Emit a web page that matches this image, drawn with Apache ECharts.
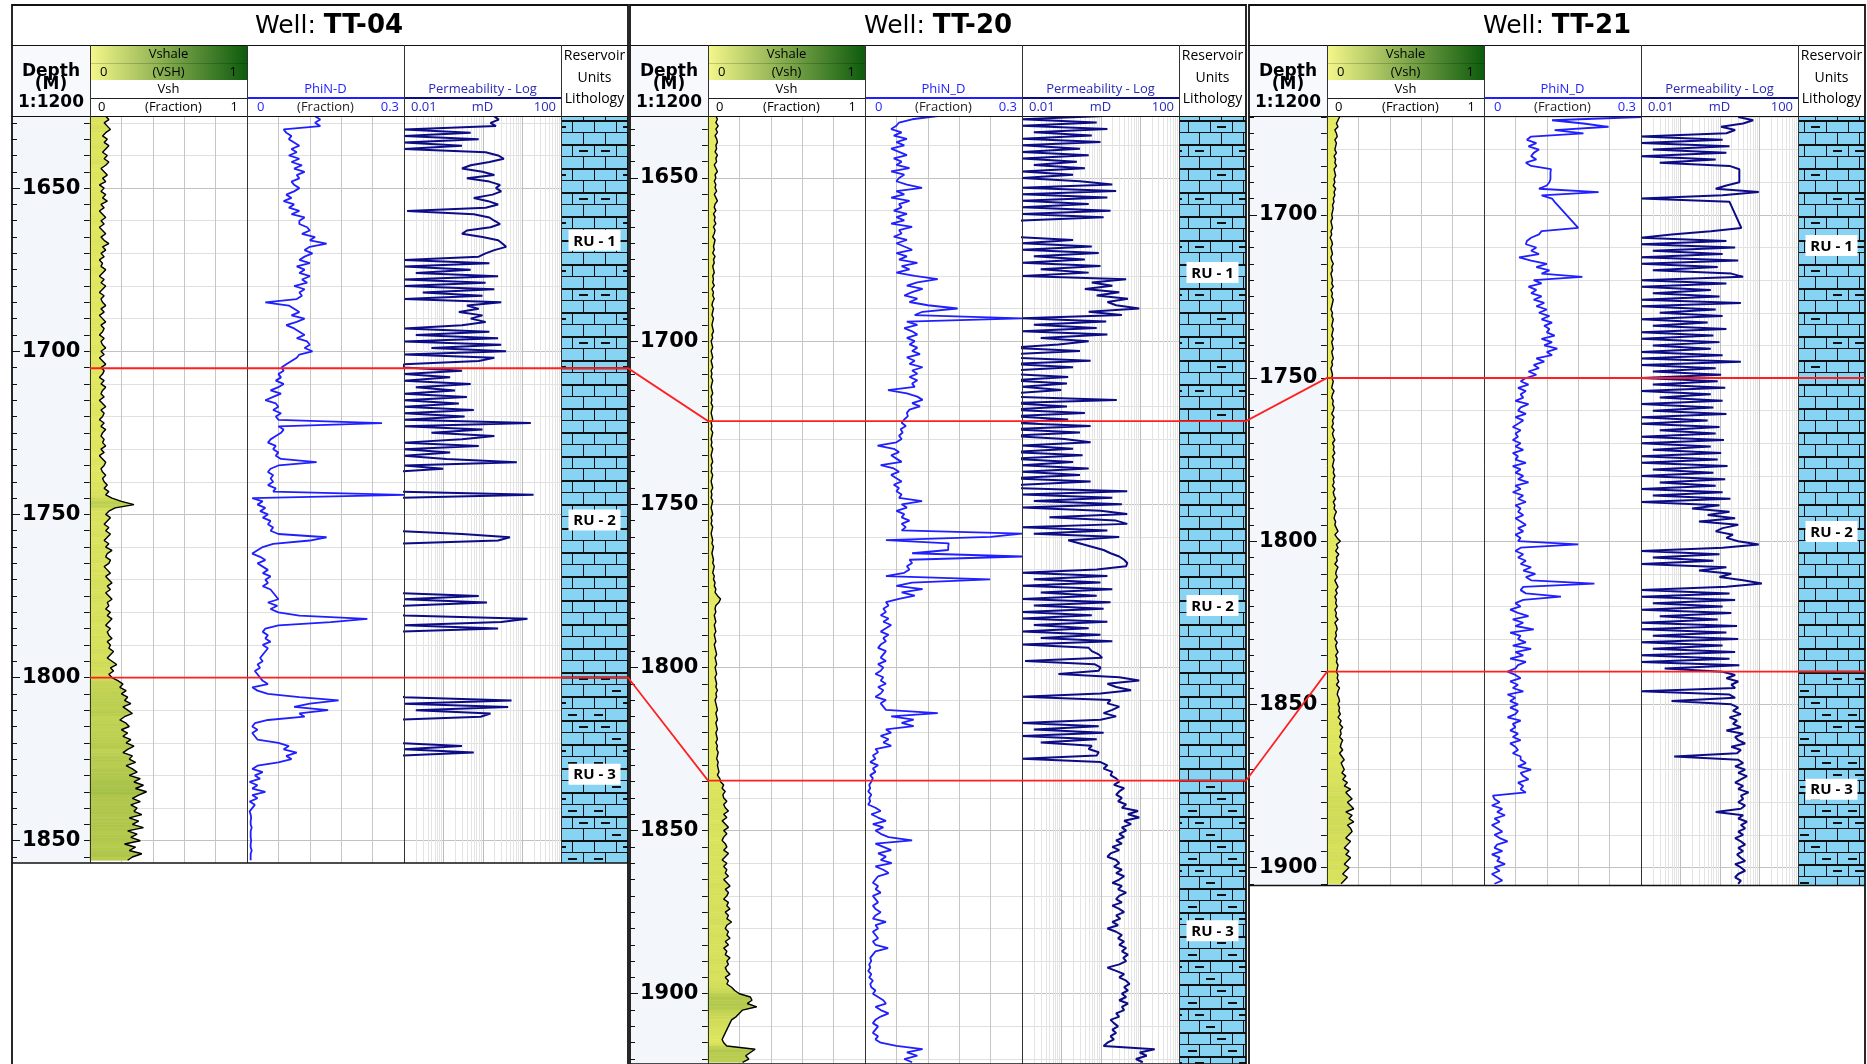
<!DOCTYPE html>
<html>
<head>
<meta charset="utf-8">
<title>Well correlation TT-04 / TT-20 / TT-21</title>
<script src="https://cdn.jsdelivr.net/npm/echarts@6.0.0/dist/echarts.min.js"></script>
<style>
html,body{margin:0;padding:0;background:#fff;}
#chart{width:1867px;height:1064px;}
</style>
</head>
<body>
<div id="chart"></div>
<script>
// ===================== DATA =====================
const wellNames = ['TT-04', 'TT-20', 'TT-21'];
const vshHeaderNames = ['(VSH)', '(Vsh)', '(Vsh)'];
const phiCurveNames = ['PhiN-D', 'PhiN_D', 'PhiN_D'];
const vshCurveName = 'Vsh';
const vshScaleTitle = 'Vshale';
const permCurveName = 'Permeability - Log';
const vshScaleLabels = ['0', '(Fraction)', '1'];
const phiScaleLabels = ['0', '(Fraction)', '0.3'];
const permScaleLabels = ['0.01', 'mD', '100'];
const vshRange = [0, 1];
const phiRange = [0, 0.3];
const permRange = [0.01, 100];
const vshGridStep = 0.2;
const phiGridStep = 0.06;
const permDecadeLines = [0.1, 1, 10];
const permMinorLines = [0.02,0.03,0.04,0.05,0.06,0.07,0.08,0.09,
  0.2,0.3,0.4,0.5,0.6,0.7,0.8,0.9, 2,3,4,5,6,7,8,9, 20,30,40,50,60,70,80,90];
const depthLabelStep = 50;
const depthTickStep = 5;
const depthGridStep = 10;

// visible depth window of every well (m) and axis extents
const viewTop = [1627.9, 1631, 1669.7];
const viewBottom = [1856.8, 1921.5, 1905.5];
const axisMin = [1600, 1600, 1650];
const firstDepth = [1628, 1631, 1670];   // depth of first sample; samples every 1 m
const sampleStep = 1;

// reservoir units
const unitNames = ['RU - 1', 'RU - 2', 'RU - 3'];
const topRU2 = [1705.2, 1724.5, 1750];
const topRU3 = [1800, 1834.7, 1840];
const unitLabelDepth = [[1666, 1751.7, 1829.6], [1679, 1781, 1880.7], [1709.4, 1797, 1876]];

// ---------- TT-04 (1628 .. 1856 m) ----------
const tt04Vsh = [
 .10,.12,.09,.11,.13,.10,.08,.11,.09,.12,
 .10,.08,.11,.09,.12,.10,.07,.09,.11,.08,
 .10,.06,.09,.07,.10,.08,.11,.07,.09,.06,
 .08,.10,.07,.09,.06,.08,.10,.07,.09,.12,
 .08,.10,.07,.09,.06,.08,.07,.10,.08,.06,
 .09,.07,.10,.08,.06,.09,.07,.08,.10,.07,
 .09,.06,.08,.10,.07,.09,.08,.06,.09,.07,
 .08,.10,.07,.09,.06,.08,.10,.07,.09,.08,
 .06,.09,.07,.10,.08,.07,.09,.06,.08,.10,
 .07,.09,.08,.06,.09,.07,.10,.08,.07,.09,
 .08,.10,.07,.09,.06,.08,.10,.09,.07,.08,
 .10,.08,.09,.11,.09,.12,.10,.14,.20,.28,
 .16,.12,.10,.13,.11,.09,.12,.10,.13,.11,
 .09,.12,.10,.14,.11,.10,.13,.12,.09,.11,
 .13,.10,.12,.14,.11,.13,.10,.12,.14,.11,
 .12,.10,.13,.11,.14,.12,.10,.13,.11,.12,
 .14,.11,.13,.12,.15,.13,.11,.14,.17,.13,
 .15,.12,.14,.18,.21,.19,.23,.20,.24,.22,
 .26,.21,.24,.27,.22,.19,.23,.25,.20,.24,
 .21,.26,.23,.28,.24,.21,.27,.25,.29,.23,
 .27,.30,.25,.32,.28,.34,.29,.36,.31,.27,
 .32,.26,.30,.28,.33,.25,.31,.27,.34,.24,
 .30,.26,.32,.22,.29,.25,.33,.27,.24
];
const tt04Phi = [
 .13,.14,.13,.14,.07,.075,.085,.08,.09,.10,
 .085,.095,.08,.10,.085,.105,.09,.11,.095,.10,
 .085,.09,.10,.09,.075,.085,.07,.09,.08,.10,
 .085,.11,.10,.10,.115,.12,.105,.13,.12,.152,
 .12,.11,.125,.11,.10,.12,.095,.11,.10,.12,
 .105,.115,.09,.11,.10,.105,.095,.035,.08,.09,
 .10,.085,.11,.095,.075,.09,.10,.11,.095,.115,
 .12,.11,.125,.10,.095,.085,.075,.066,.07,.06,
 .065,.055,.07,.06,.045,.065,.05,.035,.055,.06,
 .05,.065,.055,.06,.258,.06,.07,.065,.055,.045,
 .04,.055,.05,.06,.055,.065,.133,.06,.045,.04,
 .05,.045,.05,.04,.055,.05,.30,.01,.03,.02,
 .035,.025,.04,.03,.045,.04,.05,.045,.06,.152,
 .12,.05,.03,.02,.01,.025,.035,.02,.03,.04,
 .03,.045,.035,.04,.03,.045,.05,.055,.06,.04,
 .058,.045,.06,.10,.23,.16,.06,.035,.03,.04,
 .035,.045,.03,.04,.035,.03,.025,.03,.02,.025,
 .015,.02,.025,.03,.04,.01,.02,.04,.10,.175,
 .12,.09,.155,.10,.11,.04,.015,.01,.02,.01,
 .015,.02,.06,.08,.07,.095,.075,.085,.06,.02,
 .01,.03,.015,.025,.005,.02,.01,.035,.01,.02,
 .005,.015,.01,.005,.007,.008,.007,.007,.009,.007,
 .007,.007,.008,.007,.007,.009,.007,.007,.007
];
const tt04Perm = [
 2.0,2.6,1.6,2.2,0.01,0.5,0.01,0.8,0.01,0.3,
 0.01,1.2,2.5,3.5,1.5,0.5,0.3,1.0,2.0,0.4,
 1.5,2.8,2.2,3.0,1.8,0.6,1.4,2.5,1.2,0.012,
 0.6,1.5,2.0,2.8,1.6,0.4,0.3,1.0,2.5,3.2,
 4.0,2.0,1.2,0.8,0.01,1.5,0.01,0.5,0.02,2.5,
 0.01,1.2,0.01,2.0,0.03,1.0,0.01,3.0,0.4,0.8,
 0.25,1.0,0.5,1.2,0.3,0.01,1.5,0.02,2.5,0.01,
 3.0,0.05,4.0,0.01,2.0,0.8,0.01,0.01,0.3,0.01,
 0.15,0.01,0.5,0.02,0.2,0.01,0.4,0.01,0.25,0.01,
 0.6,0.01,0.35,0.01,17,0.01,1.0,0.05,2.0,0.3,
 0.01,0.8,0.01,0.15,0.01,0.12,7.5,0.01,0.1,0.005,
 0.005,0.005,0.005,0.005,0.005,0.005,20,0.005,0.005,0.005,
 0.005,0.005,0.005,0.005,0.005,0.005,0.005,0.005,0.3,5.0,
 2.5,0.005,0.005,0.005,0.005,0.005,0.005,0.005,0.005,0.005,
 0.005,0.005,0.005,0.005,0.005,0.005,0.005,0.8,0.01,1.3,
 0.01,0.005,0.005,0.01,14,3.0,0.01,2.5,0.005,0.005,
 0.005,0.005,0.005,0.005,0.005,0.005,0.005,0.005,0.005,0.005,
 0.005,0.005,0.005,0.005,0.005,0.005,0.005,0.005,0.01,5.5,
 0.01,4.5,0.02,1.6,0.9,0.005,0.005,0.005,0.005,0.005,
 0.005,0.005,0.005,0.3,0.01,0.6,0.005,0.005,0.005,0.005,
 0.005,0.005,0.005,0.005,0.005,0.005,0.005,0.005,0.005,0.005,
 0.005,0.005,0.005,0.005,0.005,0.005,0.005,0.005,0.005,0.005,
 0.005,0.005,0.005,0.005,0.005,0.005,0.005,0.005,0.005
];

// ---------- TT-20 (1631 .. 1921 m) ----------
const tt20Vsh = [
 .05,.06,.05,.065,.05,.06,.045,.055,.06,.05,
 .055,.045,.06,.05,.055,.04,.05,.06,.045,.05,
 .04,.05,.045,.055,.04,.05,.06,.045,.04,.05,
 .035,.045,.04,.05,.035,.045,.04,.03,.045,.04,
 .035,.04,.03,.045,.035,.04,.03,.035,.04,.03,
 .035,.03,.04,.025,.035,.03,.04,.03,.025,.035,
 .03,.025,.035,.03,.025,.03,.035,.025,.03,.02,
 .025,.03,.02,.025,.03,.02,.025,.03,.02,.025,
 .02,.03,.025,.02,.025,.03,.02,.025,.02,.03,
 .025,.02,.025,.03,.02,.025,.02,.03,.025,.02,
 .025,.02,.03,.025,.02,.025,.03,.02,.025,.02,
 .03,.025,.02,.025,.03,.02,.025,.02,.03,.025,
 .02,.025,.03,.02,.025,.02,.03,.025,.02,.025,
 .03,.025,.035,.03,.025,.03,.035,.03,.04,.035,
 .03,.04,.035,.045,.04,.05,.045,.06,.08,.07,
 .05,.045,.05,.04,.045,.05,.04,.045,.05,.04,
 .045,.05,.04,.045,.05,.055,.045,.05,.055,.045,
 .05,.055,.045,.05,.055,.05,.06,.05,.055,.045,
 .05,.055,.06,.05,.055,.06,.05,.055,.06,.05,
 .055,.06,.05,.06,.055,.065,.06,.055,.065,.06,
 .065,.07,.06,.075,.08,.1,.09,.11,.095,.1,
 .12,.1,.11,.13,.1,.12,.09,.11,.13,.1,
 .12,.1,.09,.11,.12,.1,.13,.11,.09,.12,
 .1,.12,.11,.13,.1,.12,.14,.11,.13,.12,
 .1,.13,.12,.14,.11,.13,.12,.15,.12,.11,
 .13,.12,.14,.11,.13,.1,.12,.11,.14,.12,
 .13,.11,.12,.14,.11,.13,.12,.15,.17,.2,
 .27,.28,.25,.31,.22,.2,.18,.15,.14,.13,
 .12,.11,.1,.09,.1,.12,.3,.27,.24,.26,
 .22
];
const tt20Phi = [
 .139,.09,.065,.06,.05,.07,.055,.08,.06,.075,
 .05,.065,.08,.055,.07,.06,.085,.05,.075,.065,
 .06,.08,.109,.06,.075,.05,.085,.065,.07,.055,
 .08,.06,.075,.05,.09,.065,.07,.055,.08,.06,
 .075,.09,.06,.08,.065,.1,.07,.085,.06,.095,
 .139,.1,.08,.11,.09,.075,.1,.085,.12,.177,
 .11,.095,.30,.08,.1,.075,.09,.1,.08,.095,
 .085,.1,.09,.105,.08,.095,.085,.11,.09,.1,
 .085,.1,.09,.095,.044,.08,.1,.11,.09,.105,
 .085,.08,.082,.075,.07,.078,.068,.072,.065,.07,
 .06,.024,.055,.065,.05,.06,.07,.03,.055,.065,
 .05,.06,.07,.055,.065,.06,.07,.065,.109,.07,
 .08,.06,.075,.07,.085,.07,.078,.07,.30,.24,
 .04,.16,.159,.159,.09,.30,.085,.09,.08,.085,
 .075,.04,.239,.09,.06,.11,.07,.095,.065,.04,
 .045,.035,.04,.03,.045,.035,.05,.04,.03,.045,
 .035,.04,.03,.025,.04,.035,.03,.04,.025,.035,
 .03,.02,.035,.03,.04,.025,.035,.03,.02,.04,
 .03,.035,.04,.139,.05,.093,.07,.093,.04,.05,
 .03,.045,.035,.05,.02,.025,.015,.02,.01,.025,
 .015,.02,.01,.015,.012,.008,.01,.006,.012,.008,
 .01,.006,.02,.03,.012,.025,.04,.015,.035,.02,
 .03,.045,.09,.02,.035,.05,.025,.04,.03,.051,
 .02,.035,.045,.025,.02,.015,.025,.02,.03,.015,
 .02,.025,.015,.02,.03,.02,.015,.04,.02,.025,
 .015,.02,.025,.015,.02,.044,.02,.015,.01,.012,
 .008,.01,.006,.012,.008,.015,.01,.012,.02,.015,
 .025,.035,.04,.02,.03,.045,.03,.02,.015,.025,
 .02,.015,.025,.02,.03,.06,.11,.08,.1,.075,
 .09
];
const tt20Perm = [
 1.2,0.01,0.8,0.01,1.5,0.02,0.6,0.01,1.0,0.01,
 0.3,0.01,0.5,0.01,0.25,0.02,0.4,0.01,0.2,0.01,
 0.3,2.0,0.01,2.5,0.01,1.5,0.01,0.5,0.01,1.8,
 0.01,1.2,0.01,0.005,0.005,0.005,0.005,0.005,0.2,0.01,
 0.6,0.01,0.9,0.02,0.4,0.01,1.0,0.03,0.5,0.01,
 4.5,0.6,2.0,0.4,3.0,0.8,5.0,1.5,2.5,9.7,
 0.5,3.5,0.01,1.4,0.02,0.8,0.01,1.5,0.03,0.5,
 0.085,0.005,0.3,0.005,0.005,0.56,0.005,0.2,0.005,0.005,
 0.15,0.005,0.14,0.01,0.1,0.005,0.005,2.6,0.005,0.14,
 0.005,0.4,0.005,0.15,0.005,0.56,0.005,0.3,0.005,0.12,
 0.56,0.01,0.2,0.005,0.35,0.005,0.2,0.01,0.5,0.01,
 0.3,0.005,0.56,0.01,0.005,4.8,0.01,2.0,0.02,3.5,
 0.01,1.0,4.8,0.05,2.5,4.8,0.01,1.5,0.02,3.0,
 0.15,0.3,0.6,1.2,1.8,3.0,4.0,4.8,4.5,0.8,
 0.01,1.5,0.02,1.0,0.01,2.0,0.03,0.8,0.01,1.8,
 0.02,1.2,0.01,0.6,0.01,1.5,0.02,0.5,0.01,1.0,
 0.03,2.0,0.01,0.5,0.6,0.9,1.1,0.012,0.7,1.0,
 0.9,0.085,3.0,9.7,1.5,2.5,6.0,1.0,0.01,1.8,
 1.5,3.0,2.0,1.2,2.5,1.0,0.01,0.9,0.02,1.2,
 0.01,0.8,0.03,0.6,0.5,0.9,0.8,0.01,1.0,1.5,
 1.2,2.0,1.8,2.5,3.0,2.2,4.0,3.0,2.5,3.5,
 2.8,4.5,3.5,9.0,5.0,9.7,4.0,6.0,3.5,4.5,
 3.0,4.0,2.5,3.5,2.0,3.0,1.8,1.5,2.5,3.0,
 2.2,3.5,2.5,4.0,3.0,2.0,3.5,2.8,4.5,3.0,
 2.5,3.5,2.0,3.0,4.0,2.5,3.2,2.0,2.8,1.5,
 2.5,3.5,2.8,4.0,3.0,4.5,3.5,5.0,3.8,4.5,
 3.0,1.5,2.5,4.0,3.0,4.5,5.5,4.0,5.0,3.5,
 4.5,3.0,5.0,3.5,4.0,2.5,3.0,1.8,2.2,2.8,
 2.0,2.5,1.8,2.2,1.5,1.2,24,10,15,8.0,
 12
];

// ---------- TT-21 (1670 .. 1905 m) ----------
const tt21Vsh = [
 .08,.07,.06,.07,.05,.06,.065,.05,.06,.055,
 .05,.06,.045,.055,.05,.06,.045,.05,.055,.045,
 .05,.04,.055,.045,.05,.04,.045,.035,.04,.035,
 .03,.035,.025,.03,.035,.025,.03,.02,.03,.035,
 .025,.03,.035,.025,.03,.04,.03,.035,.025,.03,
 .035,.03,.04,.025,.035,.03,.04,.035,.03,.025,
 .035,.03,.04,.035,.03,.04,.035,.03,.04,.03,
 .035,.04,.03,.035,.04,.03,.035,.025,.03,.035,
 .03,.04,.035,.03,.045,.035,.03,.04,.035,.045,
 .04,.03,.045,.035,.04,.03,.045,.035,.04,.05,
 .035,.045,.04,.05,.035,.045,.04,.035,.045,.04,
 .05,.04,.045,.035,.05,.04,.045,.055,.04,.05,
 .045,.06,.05,.045,.055,.05,.06,.07,.05,.065,
 .085,.06,.07,.055,.075,.06,.065,.05,.07,.06,
 .055,.065,.05,.06,.07,.055,.065,.05,.06,.055,
 .065,.05,.06,.055,.07,.05,.06,.065,.055,.06,
 .05,.065,.055,.06,.07,.055,.065,.06,.07,.065,
 .06,.07,.065,.075,.06,.08,.07,.065,.075,.08,
 .07,.08,.075,.085,.07,.09,.08,.1,.085,.09,
 .08,.1,.09,.085,.1,.08,.095,.11,.09,.1,
 .11,.095,.12,.1,.13,.11,.15,.12,.14,.16,
 .13,.15,.17,.12,.16,.14,.17,.13,.15,.16,
 .14,.12,.15,.13,.11,.14,.12,.15,.13,.11,
 .14,.12,.1,.13,.11,.09
];
const tt21Phi = [
 .30,.13,.19,.238,.135,.19,.09,.082,.1,.085,
 .105,.095,.09,.1,.08,.09,.128,.127,.127,.127,
 .125,.12,.105,.219,.11,.13,.135,null,null,null,
 null,null,null,null,.18,.11,.105,.09,.082,.08,
 .1,.09,.105,.067,.09,.12,.1,.125,.11,.188,
 .095,.11,.085,.1,.09,.11,.095,.115,.1,.12,
 .105,.125,.11,.13,.115,.125,.12,.135,.11,.13,
 .115,.14,.12,.13,.1,.115,.095,.105,.085,.1,
 .08,.07,.085,.065,.08,.07,.075,.06,.085,.07,
 .065,.08,.06,.075,.065,.055,.07,.06,.065,.055,
 .07,.06,.075,.055,.065,.06,.08,.055,.07,.06,
 .075,.065,.085,.06,.07,.055,.075,.065,.08,.06,
 .07,.065,.075,.06,.07,.08,.065,.075,.06,.07,
 .065,.18,.07,.06,.075,.065,.08,.07,.09,.075,
 .098,.08,.09,.211,.075,.07,.08,.147,.075,.06,
 .07,.05,.065,.085,.055,.075,.06,.095,.05,.07,
 .065,.08,.055,.09,.06,.075,.05,.08,.065,.06,
 .045,.06,.07,.05,.065,.055,.075,.045,.06,.05,
 .065,.05,.065,.06,.045,.07,.055,.06,.05,.065,
 .055,.07,.05,.06,.065,.055,.07,.07,.08,.065,
 .09,.07,.075,.085,.065,.075,.07,.08,.017,.02,
 .03,.015,.035,.025,.04,.02,.03,.015,.025,.035,
 .02,.03,.045,.025,.02,.035,.015,.03,.025,.04,
 .02,.03,.015,.025,.035,.02
];
const tt21Perm = [
 3.0,7.2,4.0,1.1,2.5,1.5,0.01,1.2,0.01,1.8,
 0.02,1.5,0.01,0.8,0.03,1.8,3.2,3.2,3.2,3.2,
 3.2,1.5,0.8,10,1.2,0.01,1.8,null,null,null,
 null,null,null,null,3.6,0.6,0.06,0.01,1.5,0.01,
 2.5,0.02,1.2,0.01,3.0,0.01,0.9,0.02,2.0,4.0,
 0.01,1.5,0.01,0.6,0.02,1.0,0.01,3.5,0.01,0.8,
 0.03,1.2,0.01,0.5,0.02,1.5,0.01,0.7,0.01,1.0,
 0.02,0.6,0.01,1.2,0.01,3.5,0.01,0.8,0.02,1.1,
 0.01,0.9,0.02,1.4,0.01,0.6,0.03,1.2,0.01,0.7,
 0.02,1.5,0.01,0.5,0.01,1.0,0.03,0.8,0.01,1.3,
 0.01,0.6,0.02,1.1,0.01,0.9,0.01,1.6,0.02,0.7,
 0.01,1.4,0.03,0.8,0.01,1.2,0.02,1.9,0.01,1.0,
 0.2,1.8,0.5,2.5,0.3,3.0,1.2,0.8,2.2,1.5,
 3.0,10,1.2,0.01,1.0,0.02,0.7,0.01,1.5,0.3,
 2.0,1.0,4.0,12,1.5,0.01,1.8,0.01,2.5,0.02,
 1.2,0.01,2.0,0.03,0.9,0.01,2.8,0.01,1.5,0.02,
 3.0,0.01,1.2,0.02,2.5,0.01,1.8,0.01,3.2,0.04,
 1.2,2.5,1.5,3.0,2.0,2.5,0.01,1.8,2.5,0.06,
 2.0,3.0,2.2,3.5,1.8,2.8,2.2,3.5,1.5,4.0,
 2.5,3.0,4.5,2.0,3.5,2.8,0.07,3.0,4.0,2.5,
 4.5,3.0,5.0,3.5,2.5,4.0,3.0,5.5,3.5,4.0,
 3.0,4.5,3.5,0.8,4.0,3.0,5.0,3.5,4.5,3.0,
 4.0,2.5,3.5,4.5,3.0,4.0,2.8,3.5,4.5,2.5,
 3.5,4.5,3.0,2.5,3.5,3.0
];

const wellVsh = [tt04Vsh, tt20Vsh, tt21Vsh];
const wellPhi = [tt04Phi, tt20Phi, tt21Phi];
const wellPerm = [tt04Perm, tt20Perm, tt21Perm];

// ===================== LAYOUT / STYLE =====================
const PANEL_X = [12, 630, 1249];
const TITLE_SHIFT = [9, 0, 0];
const COL_W = [78, 157, 157, 157, 67];   // depth, vsh, phi, perm, lithology
const PANEL_W = 616;
const TOP_Y = 5, TITLE_Y2 = 45, BODY_Y = 116;
const PPM = 3.263;                        // pixels per metre (1:1200)
const VSH_C0 = '#f3f366', VSH_C1 = '#0b5b0b';
const HDR_C0 = '#f4f68a', HDR_C1 = '#0d5b0d';
const PHI_COLOR = '#1f1fff', PERM_COLOR = '#0c0c86', PERM_TEXT = '#2a2ab8';
const LITH_BLUE = '#86d3f3';

function colX(w, k) { let x = PANEL_X[w]; for (let i = 0; i < k; i++) x += COL_W[i]; return x; }
const gridTop = [0,1,2].map(w => BODY_Y - (viewTop[w] - axisMin[w]) * PPM);
const gridH = [0,1,2].map(w => (viewBottom[w] - axisMin[w]) * PPM);
const bodyBottom = [0,1,2].map(w => gridTop[w] + gridH[w]);

function hex2rgb(h) { return [1,3,5].map(i => parseInt(h.slice(i, i + 2), 16)); }
const RGB0 = hex2rgb(VSH_C0), RGB1 = hex2rgb(VSH_C1);
function vshColor(v) {
  v = Math.max(0, Math.min(1, v));
  return 'rgb(' + RGB0.map((c, i) => Math.round(c + (RGB1[i] - c) * v)).join(',') + ')';
}

// lithology brick patterns
function makeBrick(dashes) {
  const c = document.createElement('canvas');
  c.width = 66; c.height = 48;
  const g = c.getContext('2d');
  g.fillStyle = LITH_BLUE; g.fillRect(0, 0, 66, 48);
  g.fillStyle = '#111';
  for (let r = 0; r < 4; r++) {
    const y = r * 12;
    g.fillRect(0, y, 66, r % 2 === 0 ? 2 : 1);
    const off = r % 2 ? 11 : 0;
    for (let x = off; x < 66; x += 22) g.fillRect(x, y, 1, 12);
  }
  dashes.forEach(p => g.fillRect(p[0] - 4, p[1], 9, 2));
  return c;
}
const patterns = [
  makeBrick([[11, 6], [55, 6], [33, 30]]),
  makeBrick([]),
  makeBrick([[11, 6], [55, 6], [22, 18], [33, 30], [44, 42], [4, 42]])
];

// ===================== OPTION =====================
const grids = [], xAxes = [], yAxes = [], series = [];
const Y_PER_WELL = 10;
// 0,1,2 depth column axes; 3/4 vsh; 5/6 phi; 7/8 perm; 9 lithology
const yIdx = (w, k) => w * Y_PER_WELL + (k === 4 ? 9 : 3 + (k - 1) * 2);

for (let w = 0; w < 3; w++) {
  const g = w * 5;
  for (let k = 0; k < 5; k++) {
    grids.push({ left: colX(w, k), top: gridTop[w], width: COL_W[k], height: gridH[w],
      show: k === 0, backgroundColor: '#f3f6fb', borderWidth: 0, containLabel: false, outerBoundsMode: 'none' });
  }
  const hidden = { axisLine: { show: false }, axisTick: { show: false }, axisLabel: { show: false } };
  xAxes.push(Object.assign({ gridIndex: g, type: 'value', min: 0, max: 1, splitLine: { show: false } }, hidden));
  xAxes.push(Object.assign({ gridIndex: g + 1, type: 'value', min: vshRange[0], max: vshRange[1], interval: vshGridStep,
    splitLine: { show: true, lineStyle: { color: '#c6c6c6', width: 1 } } }, hidden));
  xAxes.push(Object.assign({ gridIndex: g + 2, type: 'value', min: phiRange[0], max: phiRange[1], interval: phiGridStep,
    splitLine: { show: true, lineStyle: { color: '#c6c6c6', width: 1 } } }, hidden));
  xAxes.push(Object.assign({ gridIndex: g + 3, type: 'log', logBase: 10, min: permRange[0], max: permRange[1],
    splitLine: { show: false } }, hidden));
  xAxes.push(Object.assign({ gridIndex: g + 4, type: 'value', min: 0, max: 1, splitLine: { show: false } }, hidden));

  const fmt = v => (Math.abs(v % depthLabelStep) < 1e-6 && v > viewTop[w] && v < viewBottom[w]) ? String(v) : '';
  const base = { type: 'value', inverse: true, min: axisMin[w], max: viewBottom[w],
    axisLine: { show: false }, splitLine: { show: false } };
  yAxes.push(Object.assign({ gridIndex: g, position: 'left', interval: depthTickStep,
    axisTick: { show: true, inside: true, length: 5, lineStyle: { color: '#111', width: 1 } },
    axisLabel: { show: false } }, base));
  yAxes.push(Object.assign({ gridIndex: g, position: 'left', interval: depthLabelStep,
    axisTick: { show: true, inside: true, length: 8, lineStyle: { color: '#111', width: 1 } },
    axisLabel: { show: true, inside: true, margin: 10, formatter: fmt, color: '#000',
      fontSize: 21, fontWeight: 'bold', fontFamily: 'DejaVu Sans' } }, base));
  yAxes.push(Object.assign({ gridIndex: g, position: 'right', interval: depthTickStep,
    axisTick: { show: true, inside: true, length: 6, lineStyle: { color: '#111', width: 1 } },
    axisLabel: { show: false } }, base));
  for (let k = 1; k <= 3; k++) {
    yAxes.push(Object.assign({ gridIndex: g + k, position: 'left', interval: depthGridStep,
      axisTick: { show: false }, axisLabel: { show: false } }, base,
      { splitLine: { show: true, lineStyle: { color: '#e0e0e0', width: 1 } } }));
    yAxes.push(Object.assign({ gridIndex: g + k, position: 'right', interval: depthLabelStep,
      axisTick: { show: false }, axisLabel: { show: false } }, base,
      { splitLine: { show: true, lineStyle: { color: '#c2c2c2', width: 1 } } }));
  }
  yAxes.push(Object.assign({ gridIndex: g + 4, axisTick: { show: false }, axisLabel: { show: false } }, base));

  const first = firstDepth[w];
  const depthOf = i => first + i * sampleStep;
  const vsh = wellVsh[w], phi = wellPhi[w], perm = wellPerm[w];

  // permeability log grid lines
  series.push({ type: 'custom', xAxisIndex: g + 3, yAxisIndex: yIdx(w, 3), z: 1, silent: true,
    data: permMinorLines.map(v => [v, axisMin[w], 0]).concat(permDecadeLines.map(v => [v, axisMin[w], 1])),
    renderItem: (params, api) => {
      const p = api.coord([api.value(0), api.value(1)]);
      const cs = params.coordSys;
      const x = Math.round(p[0]) + 0.5;
      return { type: 'line', shape: { x1: x, y1: cs.y, x2: x, y2: cs.y + cs.height },
        style: { stroke: api.value(2) ? '#bdbdbd' : '#e4e4e4', lineWidth: 1 } };
    } });

  // Vsh shading coloured by value
  series.push({ type: 'custom', xAxisIndex: g + 1, yAxisIndex: yIdx(w, 1), z: 2, silent: true,
    data: vsh.map((v, i) => [v, depthOf(i)]),
    renderItem: (params, api) => {
      const i = params.dataIndex;
      if (i >= vsh.length - 1) return null;
      const v0 = api.value(0), d0 = api.value(1), v1 = vsh[i + 1], d1 = depthOf(i + 1);
      const a = api.coord([0, d0]), b = api.coord([v0, d0]), c = api.coord([v1, d1]), e = api.coord([0, d1]);
      const col = vshColor((v0 + v1) / 2);
      return { type: 'polygon', shape: { points: [a, b, c, e] }, style: { fill: col, stroke: col, lineWidth: 0.6 } };
    } });
  series.push({ type: 'line', name: vshCurveName, xAxisIndex: g + 1, yAxisIndex: yIdx(w, 1), z: 3, silent: true,
    data: vsh.map((v, i) => [v, depthOf(i)]), symbol: 'none', showSymbol: false,
    lineStyle: { color: '#000', width: 1.4 } });
  series.push({ type: 'line', name: phiCurveNames[w], xAxisIndex: g + 2, yAxisIndex: yIdx(w, 2), z: 3, silent: true,
    data: phi.map((v, i) => [v === null ? '-' : v, depthOf(i)]), symbol: 'none', showSymbol: false, connectNulls: true,
    lineStyle: { color: PHI_COLOR, width: 1.8 } });
  series.push({ type: 'line', name: permCurveName, xAxisIndex: g + 3, yAxisIndex: yIdx(w, 3), z: 3, silent: true,
    data: perm.map((v, i) => [v === null ? '-' : v, depthOf(i)]), symbol: 'none', showSymbol: false, connectNulls: true,
    lineStyle: { color: PERM_COLOR, width: 2 } });

  // lithology
  const units = [[0, viewTop[w], topRU2[w], 0], [0, topRU2[w], topRU3[w], 1], [0, topRU3[w], viewBottom[w], 2]];
  series.push({ type: 'custom', xAxisIndex: g + 4, yAxisIndex: yIdx(w, 4), z: 2, silent: true,
    data: units,
    renderItem: (params, api) => {
      const p0 = api.coord([0, api.value(1)]), p1 = api.coord([1, api.value(2)]);
      return { type: 'group', children: [
        { type: 'rect', shape: { x: p0[0], y: p0[1], width: p1[0] - p0[0], height: p1[1] - p0[1] },
          style: { fill: { image: patterns[api.value(3)], repeat: 'repeat' } } },
        { type: 'line', shape: { x1: p0[0], y1: p0[1], x2: p1[0], y2: p0[1] }, style: { stroke: '#111', lineWidth: 2 } }
      ] };
    } });
  series.push({ type: 'custom', xAxisIndex: g + 4, yAxisIndex: yIdx(w, 4), z: 4, silent: true,
    data: unitLabelDepth[w].map((d, i) => [0.5, d, i]),
    renderItem: (params, api) => {
      const p = api.coord([api.value(0), api.value(1)]);
      const t = unitNames[api.value(2)];
      return { type: 'group', children: [
        { type: 'rect', shape: { x: p[0] - 26, y: p[1] - 10.5, width: 52, height: 21 }, style: { fill: '#fff' } },
        { type: 'text', style: { text: t, x: p[0], y: p[1] + 1, font: 'bold 15px "Open Sans"', fill: '#000',
          textAlign: 'center', textVerticalAlign: 'middle', align: 'center', verticalAlign: 'middle' } }
      ] };
    } });
}

const chart = echarts.init(document.getElementById('chart'), null, { renderer: 'canvas', width: 1867, height: 1064 });
chart.setOption({ animation: false, backgroundColor: '#fff', grid: grids, xAxis: xAxes, yAxis: yAxes, series: series });

// ===================== HEADER & CORRELATION GRAPHICS =====================
const els = [];
const mctx = document.createElement('canvas').getContext('2d');
function tw(t, font) { mctx.font = font; return mctx.measureText(t).width; }
function txt(x, y, text, font, fill, align) {
  els.push({ type: 'text', z: 62, silent: true, style: { x: x, y: y, text: text, font: font, fill: fill || '#000',
    textAlign: align || 'center', textVerticalAlign: 'middle', align: align || 'center', verticalAlign: 'middle' } });
}
function rect(x, y, w, h, style, z) { els.push({ type: 'rect', z: z || 50, silent: true, shape: { x: x, y: y, width: w, height: h }, style: style }); }
function line(x1, y1, x2, y2, stroke, lw, z) {
  els.push({ type: 'line', z: z || 64, silent: true, shape: { x1: x1, y1: y1, x2: x2, y2: y2 }, style: { stroke: stroke, lineWidth: lw } });
}

const smallFont = '13px "Open Sans"';
for (let w = 0; w < 3; w++) {
  const x0 = PANEL_X[w];
  const c = [0,1,2,3,4,5].map(k => colX(w, k));
  if (bodyBottom[w] < 1064) rect(x0, bodyBottom[w], PANEL_W, 1064 - bodyBottom[w] + 2, { fill: '#fff' }, 50);
  rect(x0, TOP_Y, PANEL_W, TITLE_Y2 - TOP_Y, { fill: '#fff' }, 50);
  rect(x0, TITLE_Y2, PANEL_W, BODY_Y - TITLE_Y2, { fill: '#fff' }, 50);
  rect(c[0], TITLE_Y2, COL_W[0], BODY_Y - TITLE_Y2, { fill: '#f7f9fd' }, 51);
  rect(c[1] + 1, 46, COL_W[1] - 1, 34, { fill: { type: 'linear', x: 0, y: 0, x2: 1, y2: 0,
    colorStops: [{ offset: 0, color: HDR_C0 }, { offset: 1, color: HDR_C1 }] } }, 51);
  line(c[1] + 1, 63.5, c[2], 63.5, 'rgba(0,0,0,0.18)', 1, 52);

  // title
  const fA = '25px "DejaVu Sans"', fB = 'bold 26px "DejaVu Sans"';
  const tA = 'Well: ', tB = wellNames[w];
  const wA = tw(tA, fA), wB = tw(tB, fB);
  const sx = x0 + PANEL_W / 2 - (wA + wB) / 2 + TITLE_SHIFT[w];
  txt(sx, 26, tA, fA, '#000', 'left');
  txt(sx + wA, 26, tB, fB, '#000', 'left');

  // depth header
  const fd = 'bold 17px "DejaVu Sans"';
  const dcx = c[0] + COL_W[0] / 2;
  txt(dcx, 72, 'Depth', fd); txt(dcx, 85, '(M)', fd); txt(dcx, 103, '1:1200', fd);

  // Vsh header
  const vcx = (c[1] + c[2]) / 2;
  txt(vcx, 54, vshScaleTitle, smallFont);
  txt(c[1] + 10, 72, '0', smallFont, '#000', 'left');
  txt(vcx, 72, vshHeaderNames[w], smallFont);
  txt(c[2] - 10, 72, '1', smallFont, '#000', 'right');
  txt(vcx, 89, vshCurveName, smallFont);
  line(c[1], 98.5, c[2], 98.5, '#222', 1);
  txt(c[1] + 8, 107, vshScaleLabels[0], smallFont, '#000', 'left');
  txt(vcx + 5, 107, vshScaleLabels[1], smallFont);
  txt(c[2] - 9, 107, vshScaleLabels[2], smallFont, '#000', 'right');

  // Phi header
  const pcx = (c[2] + c[3]) / 2;
  txt(pcx, 89, phiCurveNames[w], smallFont, PHI_COLOR);
  line(c[2], 98, c[3], 98, PHI_COLOR, 2);
  txt(c[2] + 10, 107, phiScaleLabels[0], smallFont, PHI_COLOR, 'left');
  txt(pcx, 107, phiScaleLabels[1], smallFont, '#222');
  txt(c[3] - 5, 107, phiScaleLabels[2], smallFont, PHI_COLOR, 'right');

  // Perm header
  const kcx = (c[3] + c[4]) / 2;
  txt(kcx, 89, permCurveName, smallFont, PERM_TEXT);
  line(c[3], 98, c[4], 98, PERM_COLOR, 2);
  txt(c[3] + 7, 107, permScaleLabels[0], smallFont, PERM_TEXT, 'left');
  txt(kcx, 107, permScaleLabels[1], smallFont, PERM_TEXT);
  txt(c[4] - 5, 107, permScaleLabels[2], smallFont, PERM_TEXT, 'right');

  // Lithology header
  const lcx = (c[4] + c[5]) / 2;
  const fl = '14px "Open Sans"';
  txt(lcx, 56, 'Reservoir', fl); txt(lcx, 78, 'Units', fl); txt(lcx, 99, 'Lithology', fl);

  // frame lines
  line(x0, TITLE_Y2 + 0.5, x0 + PANEL_W, TITLE_Y2 + 0.5, '#111', 1.2);
  line(x0, BODY_Y + 0.5, x0 + PANEL_W, BODY_Y + 0.5, '#111', 1.2);
  for (let k = 1; k <= 4; k++) line(c[k] + 0.5, TITLE_Y2, c[k] + 0.5, Math.min(bodyBottom[w], 1066), '#333', 1);
  if (bodyBottom[w] < 1064) line(x0, bodyBottom[w], x0 + PANEL_W, bodyBottom[w], '#111', 1.5);
  els.push({ type: 'rect', z: 70, silent: true, shape: { x: x0, y: TOP_Y, width: PANEL_W, height: 1070 },
    style: { fill: 'none', stroke: '#111', lineWidth: 1.8 } });
}

// correlation lines between the wells (positions through the depth scales)
[topRU2, topRU3].forEach(tops => {
  const pts = [];
  for (let w = 0; w < 3; w++) {
    pts.push(chart.convertToPixel({ gridIndex: w * 5 + 1 }, [0, tops[w]]));
    pts.push(chart.convertToPixel({ gridIndex: w * 5 + 4 }, [1, tops[w]]));
  }
  els.push({ type: 'polyline', z: 75, silent: true, shape: { points: pts }, style: { stroke: '#ff1f1f', lineWidth: 1.8, fill: 'none' } });
});

chart.setOption({ graphic: { elements: els } });
</script>
</body>
</html>
